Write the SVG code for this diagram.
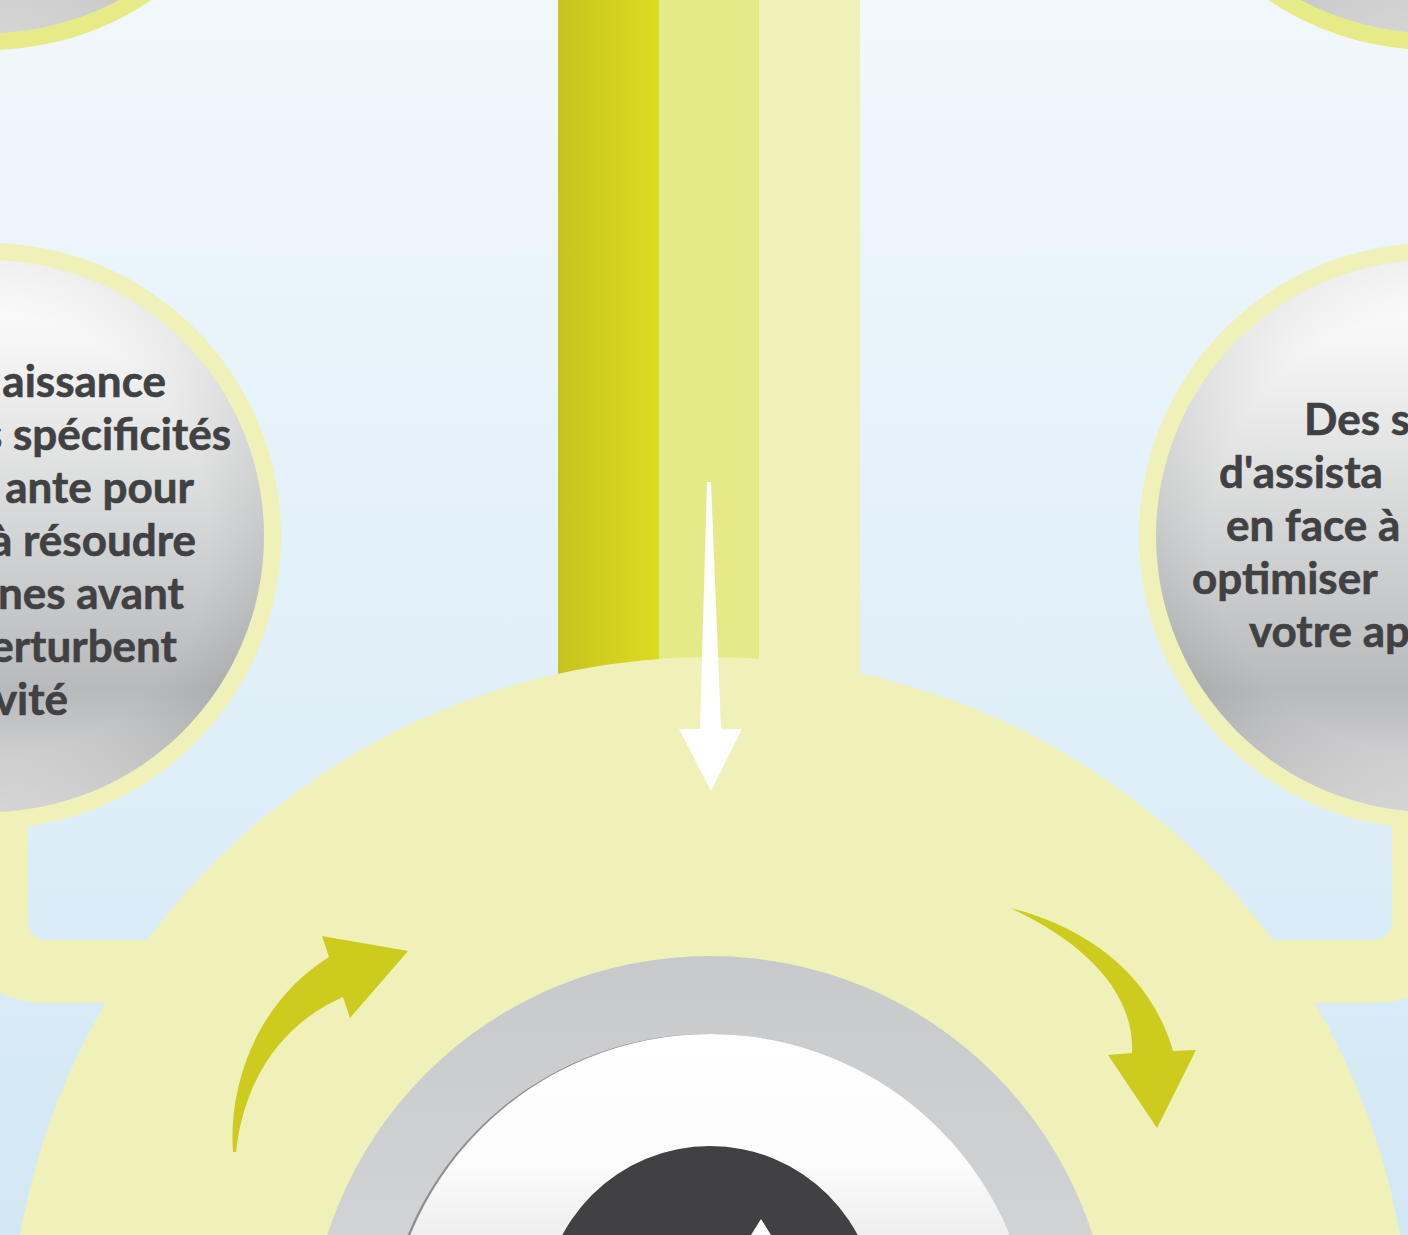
<svg xmlns="http://www.w3.org/2000/svg" width="1408" height="1235" viewBox="0 0 1408 1235">
<defs>
<linearGradient id="bg" x1="0" y1="0" x2="0" y2="1"><stop offset="0" stop-color="#f1f8fc"/><stop offset="1" stop-color="#d2e8f5"/></linearGradient>
<linearGradient id="ball" x1="0" y1="0" x2="0" y2="1"><stop offset="0" stop-color="#ffffff"/><stop offset="0.15" stop-color="#f6f6f6"/><stop offset="0.5" stop-color="#d3d4d5"/><stop offset="0.78" stop-color="#b8b9bb"/><stop offset="0.94" stop-color="#d6d6d7"/><stop offset="1" stop-color="#e2e2e3"/></linearGradient>
<radialGradient id="edge" cx="0.5" cy="0.5" r="0.5"><stop offset="0.8" stop-color="#000" stop-opacity="0"/><stop offset="1" stop-color="#000" stop-opacity="0.06"/></radialGradient>
<linearGradient id="stripe" x1="0" y1="0" x2="1" y2="0"><stop offset="0" stop-color="#c5c320"/><stop offset="1" stop-color="#dedc1e"/></linearGradient>
<linearGradient id="ring" x1="0" y1="0" x2="0" y2="1"><stop offset="0" stop-color="#c8c9cb"/><stop offset="0.4" stop-color="#d3d4d6"/><stop offset="1" stop-color="#d6d7d9"/></linearGradient>
<linearGradient id="disc" x1="0" y1="0" x2="0" y2="1"><stop offset="0" stop-color="#ffffff"/><stop offset="0.2" stop-color="#fcfcfc"/><stop offset="0.32" stop-color="#ededee"/><stop offset="1" stop-color="#d8d8d9"/></linearGradient>
<style>
.pale{fill:#eff1b9}
.txt{font-family:Lato,"Open Sans","DejaVu Sans",sans-serif;font-weight:700;font-size:44px;fill:#414143;stroke:#414143;stroke-width:0.6}
.green{fill:#cdcb1d}
</style>
</defs>
<rect width="1408" height="1235" fill="url(#bg)"/>

<g id="node-top-left">
<circle cx="-12" cy="-243" r="293" fill="#e6eb88"/>
<circle cx="-12" cy="-243" r="276" fill="url(#ball)"/>
<circle cx="-12" cy="-243" r="276" fill="url(#edge)"/>
</g>
<g id="node-top-right">
<circle cx="1432" cy="-243" r="293" fill="#e6eb88"/>
<circle cx="1432" cy="-243" r="276" fill="url(#ball)"/>
<circle cx="1432" cy="-243" r="276" fill="url(#edge)"/>
</g>

<g id="connectors">
<rect x="558" y="0" width="302" height="720" class="pale"/>
<rect x="558" y="0" width="101" height="720" fill="url(#stripe)"/>
<rect x="659" y="0" width="100" height="720" fill="#e5ea88"/>
<path class="pale" d="M -60 800 L 28 800 L 28 920 Q 28 940 48 940 L 300 940 L 300 1003 L 50 1003 Q -40 1003 -40 913 Z"/>
<path class="pale" d="M 1480 800 L 1392 800 L 1392 920 Q 1392 940 1372 940 L 1120 940 L 1120 1003 L 1370 1003 Q 1460 1003 1460 913 Z"/>
</g>

<g id="node-hub">
<circle cx="710" cy="1358" r="701" class="pale"/>
<polygon fill="#ffffff" points="707,482 711,482 721,729 742,729 711,791 679,729 700,729"/>
<path class="green" d="M 233 1152 C 228 1080 260 1000 329 957 L 322 936 L 408 951 L 350 1018 L 343 997 C 290 1020 245 1070 236 1152 Z"/>
<path class="green" d="M 1010 908 C 1080 925 1150 970 1173 1051 L 1196 1050 L 1157 1128 L 1108 1055 L 1132 1053 C 1135 990 1080 940 1010 908 Z"/>
<circle cx="710" cy="1358" r="402" fill="url(#ring)"/>
<circle cx="708" cy="1359" r="325" fill="#8f8f90"/>
<circle cx="710" cy="1358" r="324" fill="url(#disc)"/>
<circle cx="710" cy="1313" r="167" fill="#414143"/>
<polygon fill="#ffffff" points="761,1219 751,1235 771,1235"/>
</g>

<g id="node-left">
<circle cx="-12" cy="536" r="293" class="pale"/>
<circle cx="-12" cy="536" r="276" fill="url(#ball)"/>
<circle cx="-12" cy="536" r="276" fill="url(#edge)"/>
<g class="txt" text-anchor="end">
<text x="166" y="397">aissance</text>
<text x="231" y="450">s spécificités</text>
<text x="194" y="503">ante pour</text>
<text x="196" y="556">à résoudre</text>
<text x="184" y="609">nes avant</text>
<text x="177" y="662">erturbent</text>
<text x="68" y="715">vité</text>
</g>
</g>

<g id="node-right">
<circle cx="1432" cy="536" r="293" class="pale"/>
<circle cx="1432" cy="536" r="276" fill="url(#ball)"/>
<circle cx="1432" cy="536" r="276" fill="url(#edge)"/>
<g class="txt">
<text x="1304" y="435">Des s</text>
<text x="1219" y="488">d'assista</text>
<text x="1226" y="541">en face à</text>
<text x="1192" y="594">optimiser</text>
<text x="1249" y="647">votre ap</text>
</g>
</g>
</svg>
